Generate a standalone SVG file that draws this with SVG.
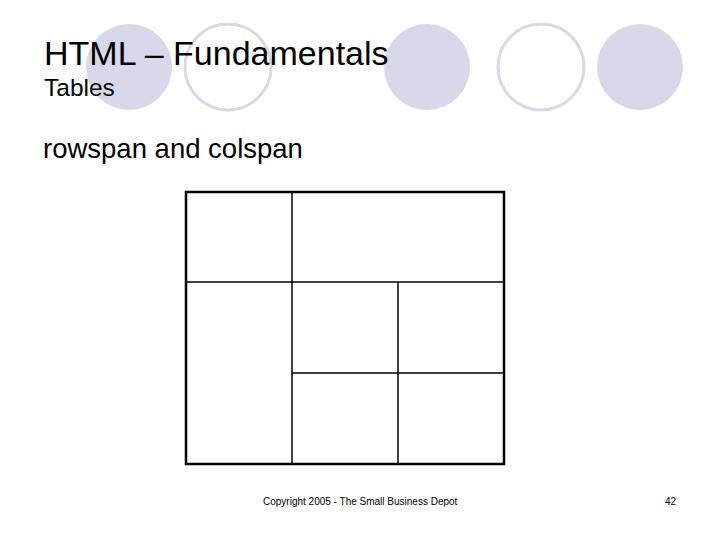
<svg xmlns="http://www.w3.org/2000/svg" width="720" height="540" viewBox="0 0 720 540">
<style>
.fill{fill:#d8d8eb;stroke:none}
.ring{fill:#ffffff;stroke:#d8d8e8;stroke-width:3}
.t{font-family:"Liberation Sans",Arial,sans-serif;fill:#000}
.outer{fill:none;stroke:#000;stroke-width:2.5}
.inner{stroke:#000;stroke-width:1.5;fill:none}
</style>
<rect width="720" height="540" fill="#ffffff"/>
<g id="decor">
<circle class="fill" cx="129" cy="67" r="43"/>
<circle class="ring" cx="228" cy="67" r="43"/>
<circle class="fill" cx="427" cy="67" r="43"/>
<circle class="ring" cx="541" cy="67" r="43"/>
<circle class="fill" cx="640" cy="67" r="43"/>
</g>
<g id="title">
<text class="t" x="44" y="65" font-size="34">HTML – Fundamentals</text>
<text class="t" x="44" y="96" font-size="24.5">Tables</text>
</g>
<g id="subtitle">
<text class="t" x="43" y="158" font-size="27.5">rowspan and colspan</text>
</g>
<g id="table">
<rect class="outer" x="186" y="192" width="318" height="272"/>
<line class="inner" x1="292" y1="192" x2="292" y2="464"/>
<line class="inner" x1="186" y1="282" x2="504" y2="282"/>
<line class="inner" x1="398" y1="282" x2="398" y2="464"/>
<line class="inner" x1="292" y1="373" x2="504" y2="373"/>
</g>
<g id="footer">
<text class="t" x="263" y="505" font-size="10">Copyright 2005 - The Small Business Depot</text>
<text class="t" x="665" y="505" font-size="10">42</text>
</g>
</svg>
